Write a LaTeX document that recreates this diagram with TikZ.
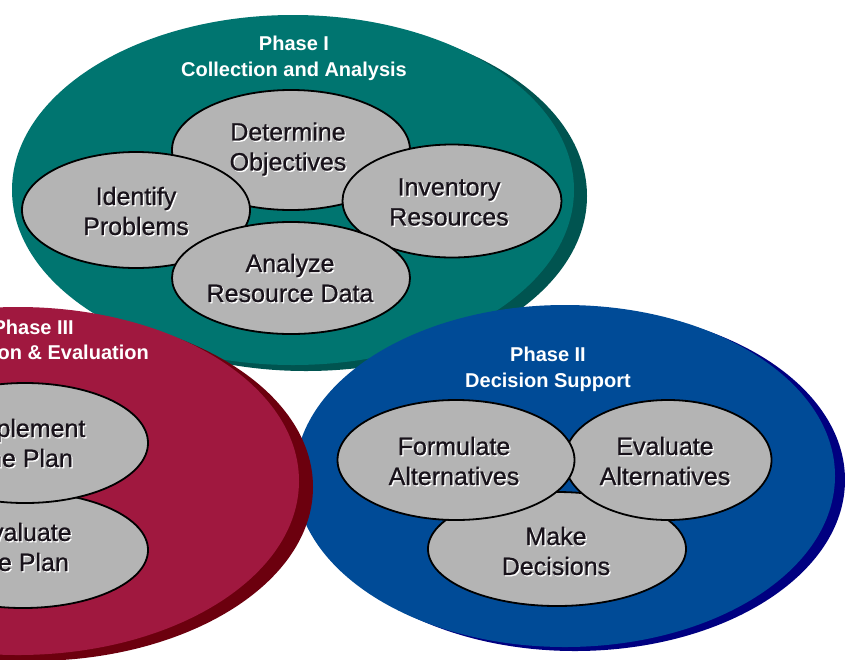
\documentclass[tikz,border=0pt]{standalone}
\usepackage{fontspec}
\setmainfont{Liberation Sans}
\newfontfamily\taskfont[FakeBold=0.7]{Liberation Sans}
\usetikzlibrary{shapes.geometric}
\definecolor{tealmain}{RGB}{0,117,112}
\definecolor{tealshade}{RGB}{0,84,80}
\definecolor{bluemain}{RGB}{0,75,151}
\definecolor{blueshade}{RGB}{0,0,128}
\definecolor{redmain}{RGB}{160,24,63}
\definecolor{redshade}{RGB}{108,0,14}
\definecolor{taskgray}{RGB}{180,180,180}
\definecolor{ink}{RGB}{24,18,26}
\newcommand\tasklabel[3]{%
  \node[taskshadow] (#1s) at ([shift={(1.3,1.3)}]#2) {#3};
  \node[tasktext] (#1) at (#2) {#3};}
\begin{document}
\begin{tikzpicture}[x=1pt,y=-1pt,
  phase/.style={ellipse, inner sep=0pt, draw=none},
  task/.style={ellipse, draw=black, line width=1.8pt, fill=taskgray, inner sep=0pt},
  lbl/.style={text=white, font=\fontsize{20}{26}\selectfont\bfseries, align=center, inner sep=0pt},
  tasktext/.style={text=ink, font=\taskfont\fontsize{25}{30}\selectfont, align=center, inner sep=0pt},
  taskshadow/.style={text=white, font=\taskfont\fontsize{25}{30}\selectfont, align=center, inner sep=0pt},
]
\useasboundingbox (0,0) rectangle (845,659);
\clip (0,0) rectangle (845,659);
\fill[white] (0,0) rectangle (845,659);

% Phase I
\node[phase, fill=tealshade, minimum width=562pt, minimum height=350pt] (p1s) at (306,196) {};
\node[phase, fill=tealmain, minimum width=562pt, minimum height=350pt] (p1) at (293,190) {};
\node[lbl] (p1t) at (294,58) {Phase I\\Collection and Analysis};
\node[task, minimum width=238pt, minimum height=120pt] (det) at (291,150) {};
\node[task, minimum width=228pt, minimum height=116pt] (idp) at (136,210) {};
\node[task, minimum width=219pt, minimum height=113pt] (inv) at (452,201) {};
\node[task, minimum width=238pt, minimum height=112pt] (ana) at (291,278) {};
\tasklabel{dett}{288,149}{Determine\\Objectives}
\tasklabel{idpt}{136,211}{Identify\\Problems}
\tasklabel{invt}{449,202}{Inventory\\Resources}
\tasklabel{anat}{290,278}{Analyze\\Resource Data}

% Phase II
\node[phase, fill=blueshade, minimum width=540pt, minimum height=342pt] (p2s) at (575,480) {};
\node[phase, fill=bluemain, minimum width=540pt, minimum height=342pt] (p2) at (565,476) {};
\node[lbl] (p2t) at (548,369) {Phase II\\Decision Support};
\node[task, minimum width=258pt, minimum height=114pt] (mak) at (557,549) {};
\node[task, minimum width=207pt, minimum height=120pt] (eva) at (668,460) {};
\node[task, minimum width=237pt, minimum height=120pt] (frm) at (456,460) {};
\tasklabel{frmt}{454,461}{Formulate\\Alternatives}
\tasklabel{evat}{665,461}{Evaluate\\Alternatives}
\tasklabel{makt}{556,551}{Make\\Decisions}

% Phase III
\node[phase, fill=redshade, minimum width=562pt, minimum height=348pt] (p3s) at (32,487) {};
\node[phase, fill=redmain, minimum width=562pt, minimum height=348pt] (p3) at (18,481) {};
\node[lbl, anchor=east] (p3a) at (74,327) {Phase III};
\node[lbl, anchor=east] (p3b) at (149,354) {Implementation \& Evaluation};
\node[task, minimum width=250pt, minimum height=116pt] (evp) at (23,550) {};
\node[task, minimum width=246pt, minimum height=120pt] (imp) at (25,443) {};
\tasklabel{impt}{27,443}{Implement\\the Plan}
\tasklabel{evpt}{23,547}{Evaluate\\the Plan}
\end{tikzpicture}
\end{document}
